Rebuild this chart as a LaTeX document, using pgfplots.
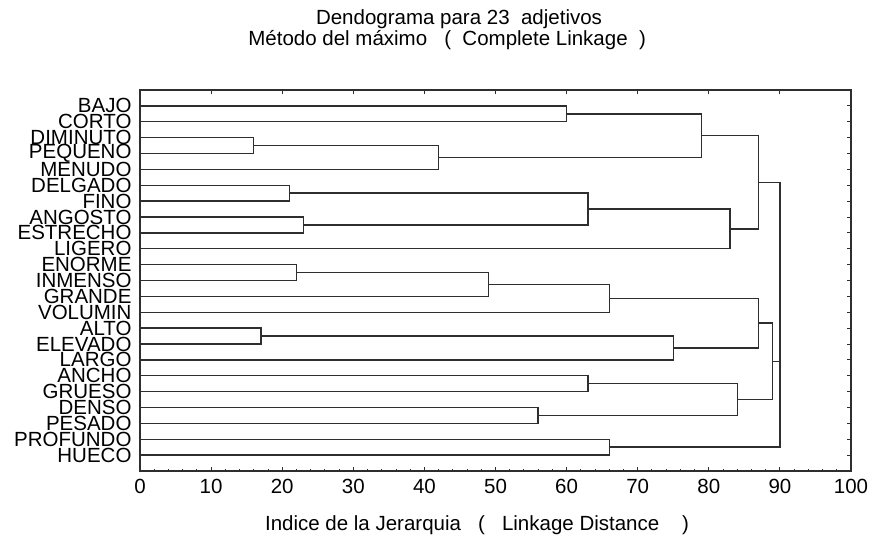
\documentclass[border=0pt]{standalone}
\usepackage{pgfplots}
\pgfplotsset{compat=1.18}
\usepackage{fontspec}
\setmainfont{Liberation Sans}

\definecolor{ink}{gray}{0.18}
\newcommand{\chartfont}{\fontsize{20.5bp}{21bp}\selectfont}

\pgfplotsset{
  dendro/.style={
    at={(140bp,66bp)}, anchor=south west,
    scale only axis, width=711bp, height=381bp,
    xmin=0, xmax=100,
    tick align=inside,
    major tick length=4bp, minor tick length=2.5bp,
    every tick/.style={ink, line width=0.9bp},
    axis line style={ink, line width=1.4bp},
    ticklabel style={font=\chartfont},
  },
  link/.style={ink, line width=1.4bp, no marks},
}

\begin{document}
\begin{tikzpicture}
\useasboundingbox (0,0) rectangle (871bp,537bp);

% ticks on the top edge: majors only
\begin{axis}[dendro, ymin=0, ymax=1,
  axis x line*=top, axis y line=none,
  xtick={0,10,...,100}, xticklabels={}]
\end{axis}

\begin{axis}[dendro,
  ymin=0, ymax=24, y dir=reverse,
  xtick={0,10,...,100}, minor x tick num=4,
  xtick pos=lower,
  ytick={1,...,23},
  ytick pos=right, yticklabel pos=left,
  yticklabels={BAJO,CORTO,DIMINUTO,PEQUENO,MENUDO,DELGADO,FINO,ANGOSTO,ESTRECHO,LIGERO,ENORME,INMENSO,GRANDE,VOLUMIN,ALTO,ELEVADO,LARGO,ANCHO,GRUESO,DENSO,PESADO,PROFUNDO,HUECO},
  yticklabel style={xshift=-5bp},
  xticklabel style={yshift=-5bp},
  /pgf/number format/assume math mode=true,
  xlabel={Indice de la Jerarquia\ \ \ (\ \ \ Linkage Distance\ \ \ \ )},
  xlabel style={font=\chartfont, at={(axis description cs:0.474,0)}, anchor=base, yshift=-59bp},
  clip=false,
]
% link coordinates: (left child height, y) (merge height, y) (merge height, y') (right child height, y')
\addplot[link] coordinates {(0,3) (16,3) (16,4) (0,4)};
\addplot[link] coordinates {(16,3.5) (42,3.5) (42,5) (0,5)};
\addplot[link] coordinates {(0,1) (60,1) (60,2) (0,2)};
\addplot[link] coordinates {(60,1.5) (79,1.5) (79,4.25) (42,4.25)};
\addplot[link] coordinates {(0,6) (21,6) (21,7) (0,7)};
\addplot[link] coordinates {(0,8) (23,8) (23,9) (0,9)};
\addplot[link] coordinates {(21,6.5) (63,6.5) (63,8.5) (23,8.5)};
\addplot[link] coordinates {(63,7.5) (83,7.5) (83,10) (0,10)};
\addplot[link] coordinates {(79,2.875) (87,2.875) (87,8.75) (83,8.75)};
\addplot[link] coordinates {(0,11) (22,11) (22,12) (0,12)};
\addplot[link] coordinates {(22,11.5) (49,11.5) (49,13) (0,13)};
\addplot[link] coordinates {(49,12.25) (66,12.25) (66,14) (0,14)};
\addplot[link] coordinates {(0,15) (17,15) (17,16) (0,16)};
\addplot[link] coordinates {(17,15.5) (75,15.5) (75,17) (0,17)};
\addplot[link] coordinates {(66,13.125) (87,13.125) (87,16.25) (75,16.25)};
\addplot[link] coordinates {(0,18) (63,18) (63,19) (0,19)};
\addplot[link] coordinates {(0,20) (56,20) (56,21) (0,21)};
\addplot[link] coordinates {(63,18.5) (84,18.5) (84,20.5) (56,20.5)};
\addplot[link] coordinates {(87,14.6875) (89,14.6875) (89,19.5) (84,19.5)};
\addplot[link] coordinates {(0,22) (66,22) (66,23) (0,23)};
\addplot[link] coordinates {(87,5.8125) (90,5.8125) (90,22.5) (66,22.5)};
\addplot[link] coordinates {(89,17.09375) (90,17.09375)};

\node[font=\chartfont, anchor=base] at (axis description cs:0.4487,1) [yshift=66bp] {Dendograma para 23\ \ adjetivos};
\node[font=\chartfont, anchor=base] at (axis description cs:0.432,1) [yshift=45bp] {Método del máximo\ \ \ (\ \ Complete Linkage\ \ )};
\end{axis}
\end{tikzpicture}
\end{document}
